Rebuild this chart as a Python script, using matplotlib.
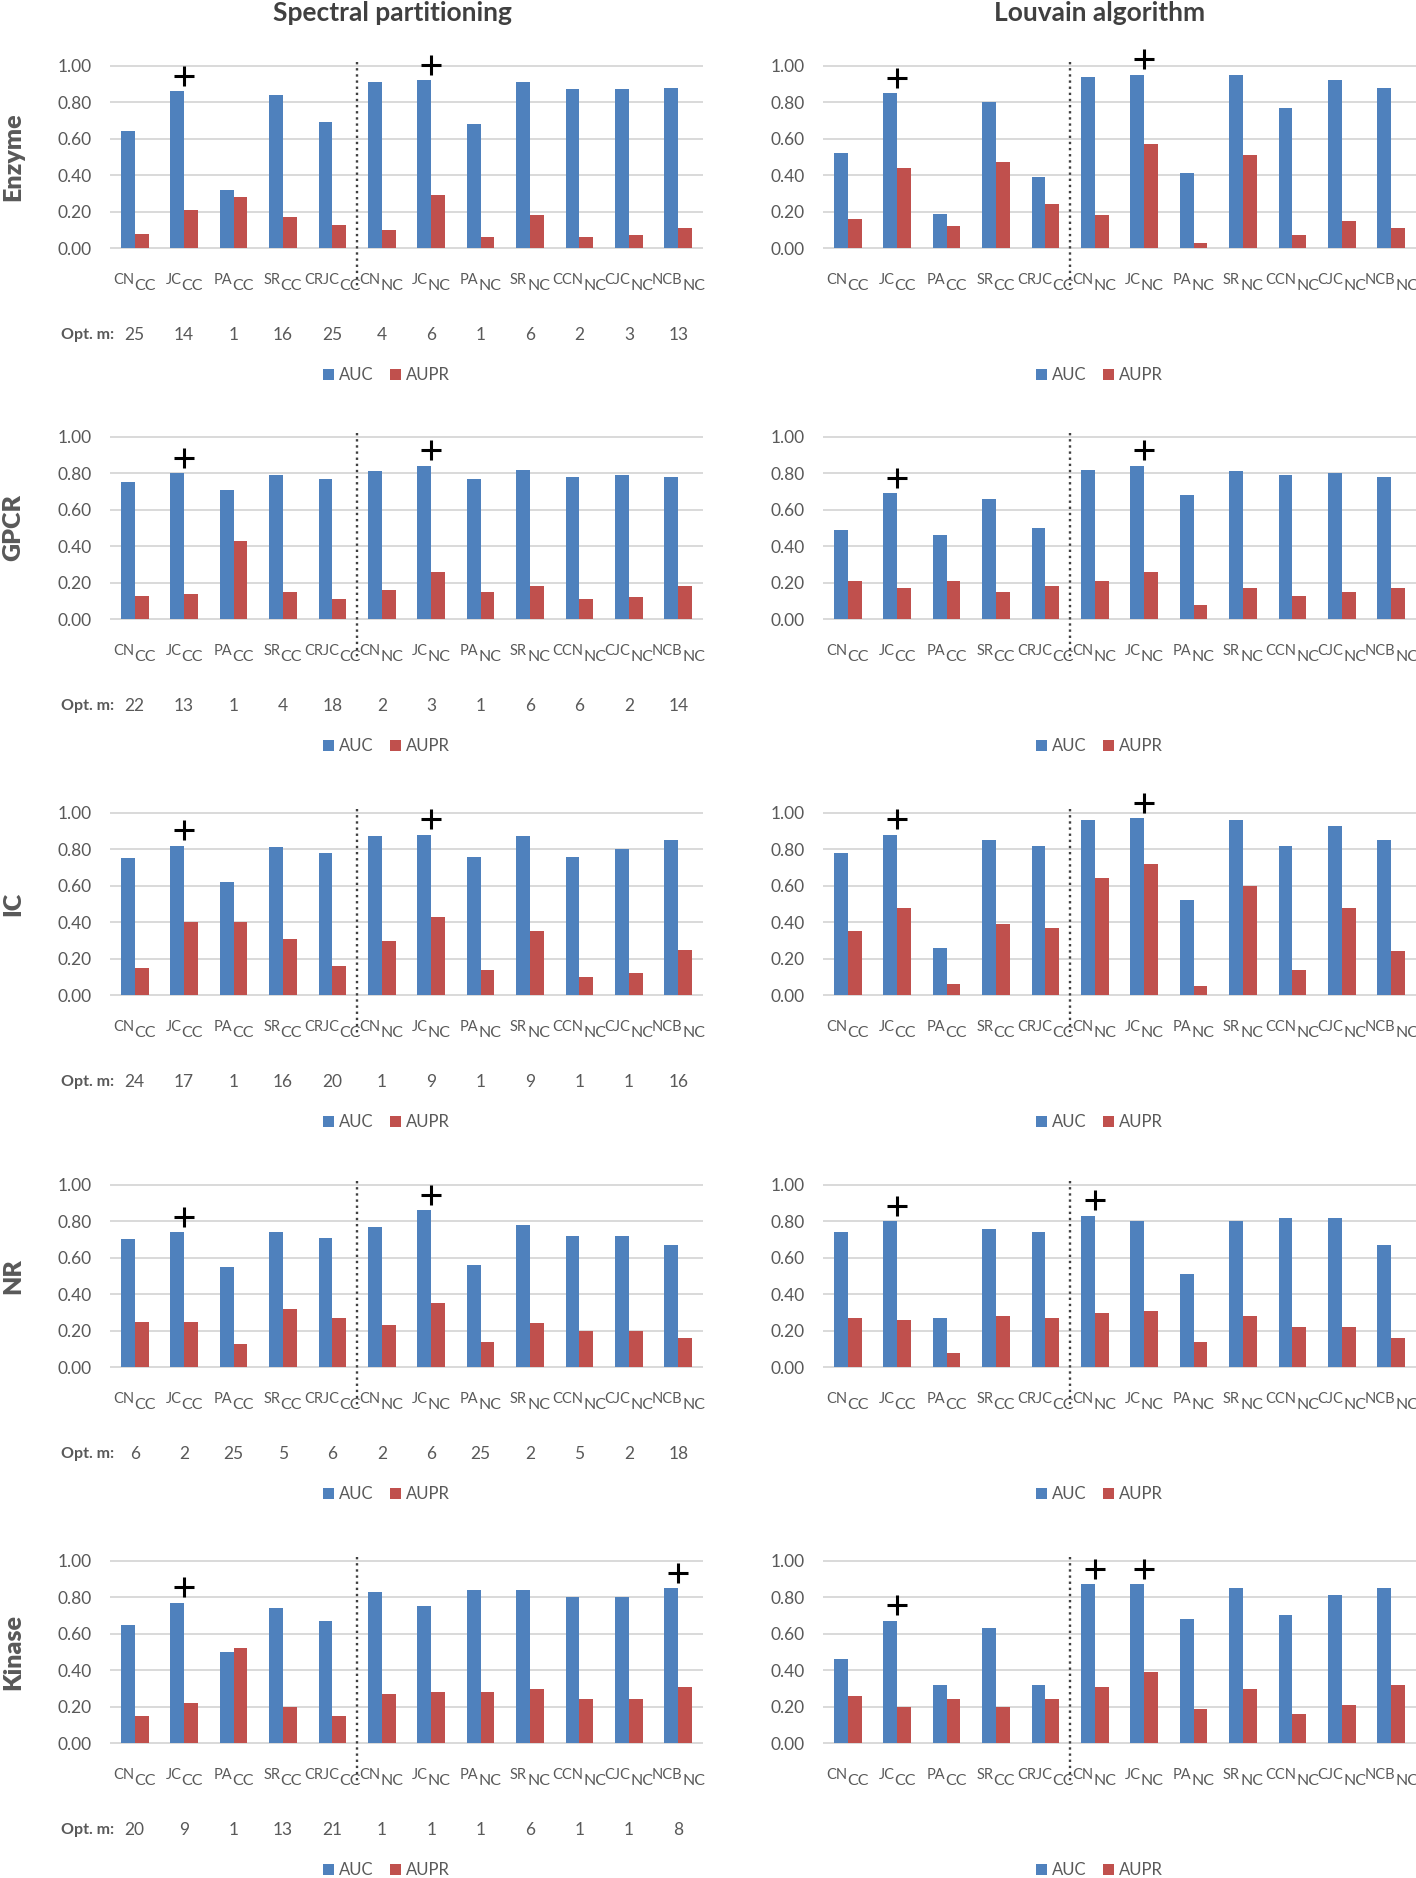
import numpy as np
import matplotlib
matplotlib.use('Agg')
import matplotlib.pyplot as plt
from matplotlib.transforms import offset_copy, blended_transform_factory
from matplotlib.patches import Patch
from matplotlib.ticker import FormatStrFormatter

plt.rcParams['font.family'] = ['Lato', 'DejaVu Sans']

# ---------------- data ----------------
cat_main = ['CN', 'JC', 'PA', 'SR', 'CRJC', 'CN', 'JC', 'PA', 'SR', 'CCN', 'CJC', 'NCB']
cat_sub = ['CC', 'CC', 'CC', 'CC', 'CC', 'NC', 'NC', 'NC', 'NC', 'NC', 'NC', 'NC']
datasets = ['Enzyme', 'GPCR', 'IC', 'NR', 'Kinase']
methods = ['Spectral partitioning', 'Louvain algorithm']
series_names = ['AUC', 'AUPR']

# Spectral partitioning
sp_auc_enzyme = [0.64, 0.86, 0.32, 0.84, 0.69, 0.91, 0.92, 0.68, 0.91, 0.87, 0.87, 0.88]
sp_aupr_enzyme = [0.08, 0.21, 0.28, 0.17, 0.13, 0.10, 0.29, 0.06, 0.18, 0.06, 0.07, 0.11]
sp_auc_gpcr = [0.75, 0.80, 0.71, 0.79, 0.77, 0.81, 0.84, 0.77, 0.82, 0.78, 0.79, 0.78]
sp_aupr_gpcr = [0.13, 0.14, 0.43, 0.15, 0.11, 0.16, 0.26, 0.15, 0.18, 0.11, 0.12, 0.18]
sp_auc_ic = [0.75, 0.82, 0.62, 0.81, 0.78, 0.87, 0.88, 0.76, 0.87, 0.76, 0.80, 0.85]
sp_aupr_ic = [0.15, 0.40, 0.40, 0.31, 0.16, 0.30, 0.43, 0.14, 0.35, 0.10, 0.12, 0.25]
sp_auc_nr = [0.70, 0.74, 0.55, 0.74, 0.71, 0.77, 0.86, 0.56, 0.78, 0.72, 0.72, 0.67]
sp_aupr_nr = [0.25, 0.25, 0.13, 0.32, 0.27, 0.23, 0.35, 0.14, 0.24, 0.20, 0.20, 0.16]
sp_auc_kinase = [0.65, 0.77, 0.50, 0.74, 0.67, 0.83, 0.75, 0.84, 0.84, 0.80, 0.80, 0.85]
sp_aupr_kinase = [0.15, 0.22, 0.52, 0.20, 0.15, 0.27, 0.28, 0.28, 0.30, 0.24, 0.24, 0.31]

# Louvain algorithm
lv_auc_enzyme = [0.52, 0.85, 0.19, 0.80, 0.39, 0.94, 0.95, 0.41, 0.95, 0.77, 0.92, 0.88]
lv_aupr_enzyme = [0.16, 0.44, 0.12, 0.47, 0.24, 0.18, 0.57, 0.03, 0.51, 0.07, 0.15, 0.11]
lv_auc_gpcr = [0.49, 0.69, 0.46, 0.66, 0.50, 0.82, 0.84, 0.68, 0.81, 0.79, 0.80, 0.78]
lv_aupr_gpcr = [0.21, 0.17, 0.21, 0.15, 0.18, 0.21, 0.26, 0.08, 0.17, 0.13, 0.15, 0.17]
lv_auc_ic = [0.78, 0.88, 0.26, 0.85, 0.82, 0.96, 0.97, 0.52, 0.96, 0.82, 0.93, 0.85]
lv_aupr_ic = [0.35, 0.48, 0.06, 0.39, 0.37, 0.64, 0.72, 0.05, 0.60, 0.14, 0.48, 0.24]
lv_auc_nr = [0.74, 0.80, 0.27, 0.76, 0.74, 0.83, 0.80, 0.51, 0.80, 0.82, 0.82, 0.67]
lv_aupr_nr = [0.27, 0.26, 0.08, 0.28, 0.27, 0.30, 0.31, 0.14, 0.28, 0.22, 0.22, 0.16]
lv_auc_kinase = [0.46, 0.67, 0.32, 0.63, 0.32, 0.87, 0.87, 0.68, 0.85, 0.70, 0.81, 0.85]
lv_aupr_kinase = [0.26, 0.20, 0.24, 0.20, 0.24, 0.31, 0.39, 0.19, 0.30, 0.16, 0.21, 0.32]

# best-method markers (index of marked category)
sp_best = {'Enzyme': [1, 6], 'GPCR': [1, 6], 'IC': [1, 6], 'NR': [1, 6], 'Kinase': [1, 11]}
lv_best = {'Enzyme': [1, 6], 'GPCR': [1, 6], 'IC': [1, 6], 'NR': [1, 5], 'Kinase': [1, 5, 6]}

# optimal m (spectral partitioning only)
opt_m_enzyme = [25, 14, 1, 16, 25, 4, 6, 1, 6, 2, 3, 13]
opt_m_gpcr = [22, 13, 1, 4, 18, 2, 3, 1, 6, 6, 2, 14]
opt_m_ic = [24, 17, 1, 16, 20, 1, 9, 1, 9, 1, 1, 16]
opt_m_nr = [6, 2, 25, 5, 6, 2, 6, 25, 2, 5, 2, 18]
opt_m_kinase = [20, 9, 1, 13, 21, 1, 1, 1, 6, 1, 1, 8]

values = {
    ('Spectral partitioning', 'Enzyme'): (sp_auc_enzyme, sp_aupr_enzyme),
    ('Spectral partitioning', 'GPCR'): (sp_auc_gpcr, sp_aupr_gpcr),
    ('Spectral partitioning', 'IC'): (sp_auc_ic, sp_aupr_ic),
    ('Spectral partitioning', 'NR'): (sp_auc_nr, sp_aupr_nr),
    ('Spectral partitioning', 'Kinase'): (sp_auc_kinase, sp_aupr_kinase),
    ('Louvain algorithm', 'Enzyme'): (lv_auc_enzyme, lv_aupr_enzyme),
    ('Louvain algorithm', 'GPCR'): (lv_auc_gpcr, lv_aupr_gpcr),
    ('Louvain algorithm', 'IC'): (lv_auc_ic, lv_aupr_ic),
    ('Louvain algorithm', 'NR'): (lv_auc_nr, lv_aupr_nr),
    ('Louvain algorithm', 'Kinase'): (lv_auc_kinase, lv_aupr_kinase),
}
best = {'Spectral partitioning': sp_best, 'Louvain algorithm': lv_best}
opt_m = {'Enzyme': opt_m_enzyme, 'GPCR': opt_m_gpcr, 'IC': opt_m_ic,
         'NR': opt_m_nr, 'Kinase': opt_m_kinase}

# ---------------- style / layout ----------------
BLUE = '#4F81BD'
RED = '#C0504D'
GRAY = '#595959'
GRID = '#D9D9D9'

W, H = 1416, 1878
fig = plt.figure(figsize=(W / 100, H / 100), dpi=100)
col_left = [110, 823]
col_title_x = [392, 1100]
ax_w = 593
row_top = [65, 436, 812, 1184, 1560]
ax_h = 184

label_pairs = []

for c, meth in enumerate(methods):
    fig.text(col_title_x[c] / W, 1 - 13 / H, meth, ha='center', va='center',
             fontsize=19, fontweight='bold', color='#404040')

for r, ds in enumerate(datasets):
    fig.text(13 / W, 1 - (row_top[r] + ax_h / 2) / H, ds, rotation=90,
             ha='center', va='center', fontsize=18, fontweight='heavy', color=GRAY)
    for c, meth in enumerate(methods):
        auc, aupr = values[(meth, ds)]
        ax = fig.add_axes([col_left[c] / W, 1 - (row_top[r] + ax_h) / H, ax_w / W, ax_h / H])
        x = np.arange(len(cat_main))
        bw = 0.28
        ax.bar(x - bw / 2, auc, bw, color=BLUE, zorder=3)
        ax.bar(x + bw / 2, aupr, bw, color=RED, zorder=3)
        ax.set_xlim(-0.5, len(cat_main) - 0.5)
        ax.set_ylim(-0.004, 1.004)
        ax.set_yticks(np.arange(0, 1.01, 0.2))
        ax.yaxis.set_major_formatter(FormatStrFormatter('%.2f'))
        ax.grid(axis='y', color=GRID, lw=1.4)
        ax.set_axisbelow(True)
        for s in ax.spines.values():
            s.set_visible(False)
        ax.tick_params(axis='y', length=0, pad=13, labelsize=12.5, labelcolor=GRAY)
        ax.set_xticks([])

        trans = blended_transform_factory(ax.transData, ax.transAxes)
        ax.plot([4.5, 4.5], [1.015, -41 / ax_h], transform=trans, color='#404040',
                lw=1.7, linestyle=(0, (1, 1.6)), clip_on=False, zorder=4)

        for i in best[meth][ds]:
            ax.plot(i, auc[i] + 0.085, marker='+', ms=15, mew=2.2, color='black',
                    clip_on=False, zorder=5)

        for i in range(len(cat_main)):
            t1 = ax.text(i, 0, cat_main[i], transform=trans, fontsize=10.5, color=GRAY,
                         ha='left', va='center')
            t2 = ax.text(i, 0, cat_sub[i], transform=trans, fontsize=11.5, color=GRAY,
                         ha='left', va='center')
            label_pairs.append((t1, t2, trans))

        if c == 0:
            tr_m = offset_copy(trans, x=0, y=-86, units='dots')
            ax.text(-0.42, 0, 'Opt. m:', transform=tr_m, ha='right', va='center',
                    fontsize=11.5, fontweight='bold', color=GRAY)
            for i, v in enumerate(opt_m[ds]):
                ax.text(i, 0, str(v), transform=tr_m, ha='center', va='center',
                        fontsize=12.5, color=GRAY)

        handles = [Patch(facecolor=BLUE, label=series_names[0]),
                   Patch(facecolor=RED, label=series_names[1])]
        ax.legend(handles=handles, loc='center',
                  bbox_to_anchor=(0.5 - 20 / ax_w, -126 / ax_h),
                  ncol=2, frameon=False, handlelength=0.65, handleheight=0.65,
                  handletextpad=0.3, columnspacing=1.0, fontsize=12, labelcolor=GRAY)

fig.canvas.draw()
rend = fig.canvas.get_renderer()
for t1, t2, trans in label_pairs:
    w1 = t1.get_window_extent(rend).width
    w2 = t2.get_window_extent(rend).width
    t1.set_transform(offset_copy(trans, x=-(w1 + w2) / 2, y=-31, units='dots'))
    t2.set_transform(offset_copy(trans, x=-(w1 + w2) / 2 + w1, y=-37, units='dots'))

fig.savefig('out.png', dpi=100, facecolor='white')
